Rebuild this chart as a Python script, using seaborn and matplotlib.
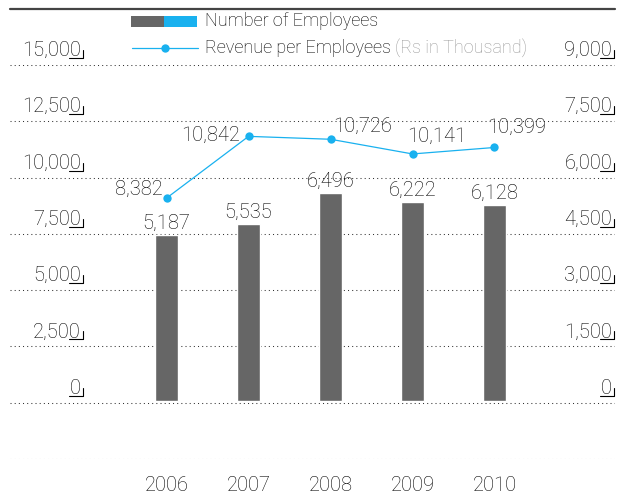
import matplotlib
matplotlib.use("Agg")
import matplotlib.pyplot as plt
import seaborn as sns
import numpy as np
from matplotlib.lines import Line2D
from matplotlib.patches import Rectangle
from matplotlib.transforms import IdentityTransform, offset_copy

# ---- data ----
years = ["2006", "2007", "2008", "2009", "2010"]
employees = [5187, 5535, 6496, 6222, 6128]
revenue_per_employee = [8382, 10842, 10726, 10141, 10399]
left_ticks = [0, 2500, 5000, 7500, 10000, 12500, 15000]
right_ticks = [0, 1500, 3000, 4500, 6000, 7500, 9000]

BAR_GREY = "#666666"
BLUE = "#19b1ef"
TEXT = "#000000"
GRID = "#333333"
FS = 14.5

sns.set_theme(style="white")
plt.rcParams["font.family"] = ["Roboto", "DejaVu Sans"]
plt.rcParams["font.weight"] = "light"

W, H = 621, 498
fig = plt.figure(figsize=(W / 100, H / 100), dpi=100)


def fx(px):
    return px / W


def fy(py):
    return 1 - py / H


# main axes: grid spans from -2,500 up to 15,000
ax = fig.add_axes([fx(10), 1 - 459 / H, (615 - 10) / W, (459 - 65) / H])
ax.set_xlim(-1.91, 5.47)
ax.set_ylim(-2500, 15000)
ax.set_yticks(np.arange(-2500, 15001, 2500))
ax.yaxis.grid(True, color=GRID, linewidth=0.75, linestyle=(0, (1, 3)))
for s in ax.spines.values():
    s.set_visible(False)

# right-hand scale sharing the same gridlines
rax = ax.twinx()
rax.set_ylim(-1500, 9000)
rax.set_yticks([])
for s in rax.spines.values():
    s.set_visible(False)

# bars: number of employees
bax = ax.twinx()
sns.barplot(x=list(range(len(years))), y=employees, ax=bax, color=BAR_GREY,
            width=0.28, saturation=1, native_scale=True)
bax.set_ylim(-1810, 10486)
bax.set_yticks([])
bax.set_ylabel("")
for s in bax.spines.values():
    s.set_visible(False)
for i, v in enumerate(employees):
    bax.text(i, v, f"{v:,}", ha="center", va="baseline", fontsize=FS,
             color=TEXT, transform=offset_copy(bax.transData, fig=fig, y=6, units="dots"))

# line: revenue per employee
lax = ax.twinx()
sns.lineplot(x=list(range(len(years))), y=revenue_per_employee, ax=lax, color=BLUE,
             linewidth=0.9, marker="o", markersize=6, markeredgewidth=0,
             markerfacecolor=BLUE)
lax.set_ylim(-2017, 13686)
lax.set_yticks([])
lax.set_ylabel("")
for s in lax.spines.values():
    s.set_visible(False)
label_offsets = [(-4, 3, "right"), (-9, -5, "right"), (3, 7, "left"),
                 (-5, 12, "left"), (-7, 15, "left")]
for i, v in enumerate(revenue_per_employee):
    dx, dy, ha = label_offsets[i]
    lax.text(i, v, f"{v:,}", ha=ha, va="baseline", fontsize=FS, color=TEXT,
             transform=offset_copy(lax.transData, fig=fig, x=dx, y=dy, units="dots"))

ax.set_xlim(-1.91, 5.47)
ax.set_xticks(range(len(years)))
ax.set_xticklabels(years, fontsize=FS, color=TEXT)
ax.tick_params(axis="x", bottom=False, pad=6)
ax.tick_params(axis="y", left=False, right=False, labelleft=False, labelright=False)
ax.set_xlabel("")


def bracket(x_right, y_disp):
    """Small underline-and-hook mark under the last digit of a scale label."""
    fig.add_artist(Line2D([x_right - 14, x_right, x_right],
                          [y_disp + 7, y_disp + 7, y_disp + 15],
                          transform=IdentityTransform(), color=TEXT, linewidth=0.8))


# left scale labels
for v in left_ticks:
    yd = ax.transData.transform((0, v))[1]
    fig.text(fx(81), (yd + 9) / H, f"{v:,}", ha="right", va="baseline",
             fontsize=FS, color=TEXT)
    bracket(83, yd)

# right scale labels
for v in right_ticks:
    yd = rax.transData.transform((0, v))[1]
    fig.text(fx(612), (yd + 9) / H, f"{v:,}", ha="right", va="baseline",
             fontsize=FS, color=TEXT)
    bracket(614, yd)

# top rule
fig.add_artist(Line2D([fx(10), fx(615)], [fy(9), fy(9)], color="#444444", linewidth=1.6))

# legend
LFS = 13
fig.add_artist(Rectangle((fx(131), fy(27)), fx(33), 11 / H, color=BAR_GREY, linewidth=0))
fig.add_artist(Rectangle((fx(164), fy(27)), fx(33), 11 / H, color=BLUE, linewidth=0))
fig.text(fx(205), fy(21), "Number of Employees", ha="left", va="center",
         fontsize=LFS, color=TEXT)
fig.add_artist(Line2D([fx(132), fx(198)], [fy(48), fy(48)], color=BLUE, linewidth=0.9))
fig.add_artist(Line2D([fx(165)], [fy(48)], color=BLUE, marker="o", markersize=6,
                      markeredgewidth=0))
t = fig.text(fx(205), fy(48), "Revenue per Employees ", ha="left", va="center",
             fontsize=LFS, color=TEXT)
fig.canvas.draw()
bb = t.get_window_extent()
fig.text(bb.x1 / W, fy(48), "(Rs in Thousand)", ha="left", va="center",
         fontsize=LFS, color="#999999")

fig.savefig("out.png", dpi=100)
